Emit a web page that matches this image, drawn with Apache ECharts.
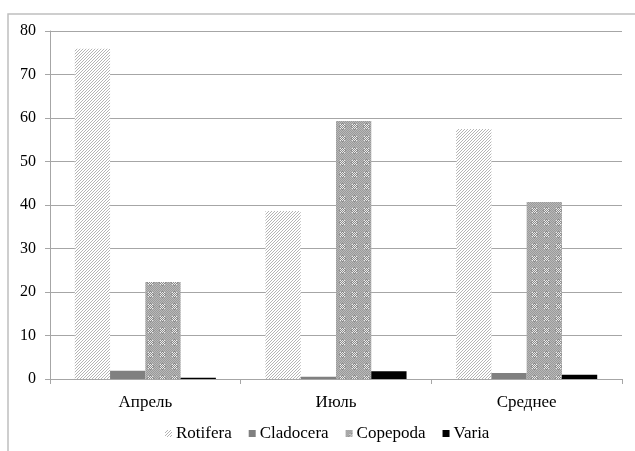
<!DOCTYPE html>
<html>
<head>
<meta charset="utf-8">
<script src="https://cdn.jsdelivr.net/npm/echarts@6/dist/echarts.min.js"></script>
<style>
  html, body { margin: 0; padding: 0; background: #fff; }
  #main { width: 635px; height: 451px; }
</style>
</head>
<body>
<div id="main"></div>
<script>
var categories = ['Апрель', 'Июль', 'Среднее'];
var rotifera = [75.9, 38.6, 57.5];
var cladocera = [1.9, 0.5, 1.4];
var copepoda = [22.3, 59.3, 40.7];
var varia = [0.3, 1.8, 1.0];
var yTicks = [0, 10, 20, 30, 40, 50, 60, 70, 80];

// diagonal hatch for Rotifera
function hatch() {
    var c = document.createElement('canvas');
    c.width = 3; c.height = 3;
    var ctx = c.getContext('2d');
    ctx.fillStyle = '#fff';
    ctx.fillRect(0, 0, 3, 3);
    ctx.fillStyle = '#b4b4b4';
    for (var i = 0; i < 3; i++) {
        ctx.fillRect(2 - i, i, 1, 1);
    }
    return c;
}

// dotted checker for Copepoda
function checker() {
    var c = document.createElement('canvas');
    c.width = 12; c.height = 12;
    var ctx = c.getContext('2d');
    for (var y = 0; y < 12; y++) {
        for (var x = 0; x < 12; x++) {
            var dx = x - 6, dy = y - 6;
            var inDot = dx * dx + dy * dy < 10;
            if ((x + y) % 2 === 0) {
                ctx.fillStyle = inDot ? '#ececec' : '#9a9a9a';
            } else {
                ctx.fillStyle = inDot ? '#8a8a8a' : '#b8b8b8';
            }
            ctx.fillRect(x, y, 1, 1);
        }
    }
    return c;
}

var myChart = echarts.init(document.getElementById('main'));

var font = '"Liberation Serif", "Times New Roman", serif';

option = {
    backgroundColor: '#fff',
    animation: false,
    graphic: [
        {
            type: 'rect',
            shape: { x: 8, y: 14, width: 700, height: 500 },
            style: { fill: 'none', stroke: '#bfbfbf', lineWidth: 1.5 },
            silent: true
        }
    ],
    grid: {
        left: 50,
        right: 13,
        top: 31,
        bottom: 72
    },
    legend: {
        bottom: 4,
        left: 160,
        icon: 'rect',
        itemWidth: 7,
        itemHeight: 7,
        itemGap: 17,
        textStyle: { fontFamily: font, fontSize: 17, color: '#000', padding: [0, 0, 0, -1] },
        data: ['Rotifera', 'Cladocera', 'Copepoda', 'Varia']
    },
    xAxis: {
        type: 'category',
        data: categories,
        axisLine: { lineStyle: { color: '#a6a6a6', width: 1 } },
        axisTick: { show: true, length: 5, lineStyle: { color: '#a6a6a6' } },
        axisLabel: { fontFamily: font, fontSize: 17, color: '#000', margin: 15 }
    },
    yAxis: {
        type: 'value',
        min: yTicks[0],
        max: yTicks[yTicks.length - 1],
        interval: 10,
        axisLine: { show: true, lineStyle: { color: '#a6a6a6', width: 1 } },
        axisTick: { show: true, length: 5, lineStyle: { color: '#a6a6a6' } },
        axisLabel: { fontFamily: font, fontSize: 16, color: '#000', margin: 14 },
        splitLine: { lineStyle: { color: '#a6a6a6', width: 1 } }
    },
    series: [
        {
            name: 'Rotifera',
            type: 'bar',
            data: rotifera,
            barGap: '0%',
            barCategoryGap: '26%',
            itemStyle: { color: { image: hatch(), repeat: 'repeat' } }
        },
        {
            name: 'Cladocera',
            type: 'bar',
            data: cladocera,
            itemStyle: { color: '#808080' }
        },
        {
            name: 'Copepoda',
            type: 'bar',
            data: copepoda,
            itemStyle: { color: { image: checker(), repeat: 'repeat' } }
        },
        {
            name: 'Varia',
            type: 'bar',
            data: varia,
            itemStyle: { color: '#000' }
        }
    ]
};

myChart.setOption(option);
</script>
</body>
</html>
